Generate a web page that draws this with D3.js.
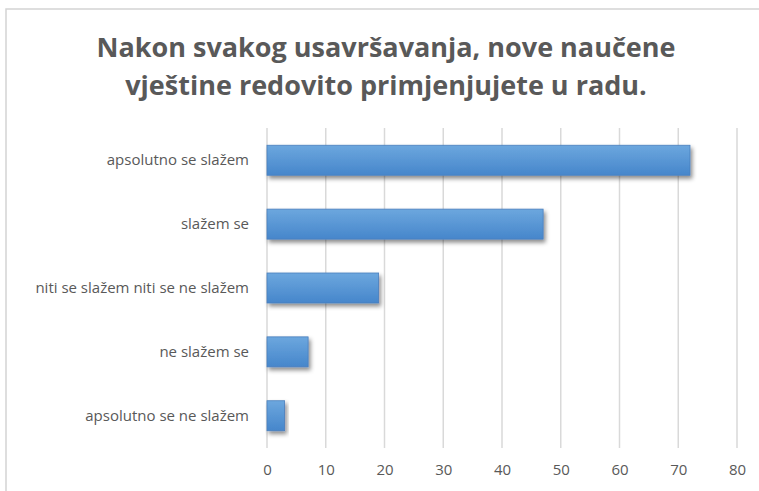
<!DOCTYPE html>
<html>
<head>
<meta charset="utf-8">
<script src="https://cdn.jsdelivr.net/npm/d3@7/dist/d3.min.js"></script>
<style>
  html, body { margin: 0; padding: 0; background: #fff; }
  svg { display: block; }
</style>
</head>
<body>
<svg id="chart" width="759" height="491"></svg>
<script>
// Survey answers, top to bottom as shown
const categories = [
  "apsolutno se slažem",
  "slažem se",
  "niti se slažem niti se ne slažem",
  "ne slažem se",
  "apsolutno se ne slažem"
];
const values = [72, 47, 19, 7, 3];
const tickValues = [0, 10, 20, 30, 40, 50, 60, 70, 80];
const titleLines = [
  "Nakon svakog usavršavanja, nove naučene",
  "vještine redovito primjenjujete u radu."
];

const svg = d3.select("#chart");
const W = 759, H = 491;
const textColor = "#595959";
const fontFamily = "'Open Sans', 'Liberation Sans', sans-serif";

// Chart frame
svg.append("rect")
  .attr("x", 6).attr("y", 9)
  .attr("width", W + 10).attr("height", H + 10)
  .attr("fill", "#fff")
  .attr("stroke", "#d4d4d4").attr("stroke-width", 1.5);

const defs = svg.append("defs");
const grad = defs.append("linearGradient")
  .attr("id", "barGrad").attr("x1", 0).attr("y1", 0).attr("x2", 0).attr("y2", 1);
grad.append("stop").attr("offset", "0%").attr("stop-color", "#6ca7de");
grad.append("stop").attr("offset", "100%").attr("stop-color", "#4686cb");

const shadow = defs.append("filter").attr("id", "barShadow")
  .attr("x", "-10%").attr("y", "-30%").attr("width", "130%").attr("height", "180%");
shadow.append("feDropShadow")
  .attr("dx", 2).attr("dy", 3).attr("stdDeviation", 2.2)
  .attr("flood-color", "#000").attr("flood-opacity", 0.45);

// Title
const title = svg.append("text")
  .attr("text-anchor", "middle")
  .attr("font-family", fontFamily)
  .attr("font-weight", "bold")
  .attr("font-size", 27)
  .attr("fill", textColor);
titleLines.forEach((line, i) => {
  title.append("tspan")
    .attr("x", 386)
    .attr("y", 57 + i * 38)
    .text(line);
});

// Scales
const plot = { left: 267, right: 737, top: 128, bottom: 448 };
const x = d3.scaleLinear().domain([0, 80]).range([plot.left, plot.right]);
const y = d3.scaleBand().domain(categories)
  .range([plot.top, plot.bottom]).paddingInner(0.53).paddingOuter(0.27);

// Vertical gridlines
svg.append("g")
  .selectAll("line")
  .data(tickValues)
  .join("line")
  .attr("x1", d => x(d)).attr("x2", d => x(d))
  .attr("y1", plot.top).attr("y2", plot.bottom)
  .attr("stroke", "#d9d9d9").attr("stroke-width", 1.5);

// X axis labels
const xAxis = d3.axisBottom(x).tickValues(tickValues).tickSize(0).tickPadding(0);
const gx = svg.append("g")
  .attr("transform", `translate(0, ${plot.bottom + 16})`)
  .call(xAxis);
gx.select(".domain").remove();
gx.selectAll("text")
  .attr("font-family", fontFamily)
  .attr("font-size", 15)
  .attr("fill", textColor);

// Y axis labels
const yAxis = d3.axisLeft(y).tickSize(0).tickPadding(0);
const gy = svg.append("g")
  .attr("transform", `translate(${plot.left - 18}, 0)`)
  .call(yAxis);
gy.select(".domain").remove();
gy.selectAll("text")
  .attr("font-family", fontFamily)
  .attr("font-size", 15)
  .attr("fill", textColor);

// Bars
svg.append("g")
  .selectAll("rect")
  .data(categories.map((c, i) => ({ c, v: values[i] })))
  .join("rect")
  .attr("x", x(0))
  .attr("y", d => y(d.c))
  .attr("width", d => x(d.v) - x(0))
  .attr("height", y.bandwidth())
  .attr("fill", "url(#barGrad)")
  .attr("stroke", "#4a7fbd").attr("stroke-width", 0.8)
  .attr("filter", "url(#barShadow)");
</script>
</body>
</html>
